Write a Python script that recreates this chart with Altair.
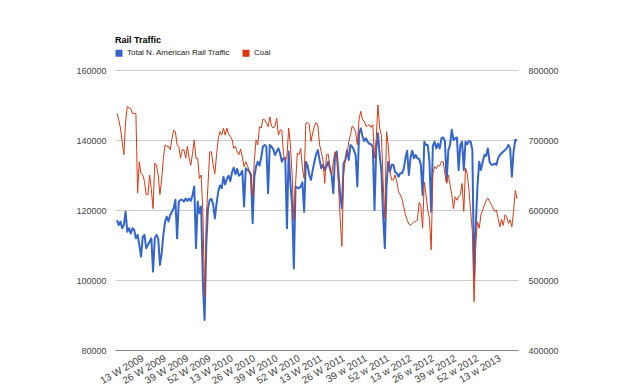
import json
import altair as alt
import pandas as pd

FONT = "Liberation Sans, Arial, sans-serif"

series_names = ["Total N. American Rail Traffic", "Coal"]
series_colors = ["#3366cc", "#dc3912"]

# weekly carloads, week 1 of 2009 onwards (left axis)
total_traffic = [
    117100, 115700, 116700, 114800, 115700, 119500, 113800, 114800, 113300, 114800,
    114300, 111900, 112900, 110000, 106700, 112400, 112900, 109100, 110000, 111000,
    111900, 102400, 111900, 112900, 111900, 104300, 107600, 112900, 116700, 118100,
    116700, 118600, 119500, 120500, 122900, 111900, 122400, 122900,
    122900, 122400, 123300, 122600, 123300, 122600, 124300, 126700, 109100, 122400,
    119100, 121000, 99500, 88600, 110000, 120500, 122900, 123200, 121600, 117600,
    121900, 125300, 127000, 126200, 129500, 127300, 128900, 129800, 128300, 130800,
    132100, 130200, 131700, 129800, 130200, 131200, 121000, 131900, 131500, 131000,
    130200, 116200, 129500, 132400, 133800, 132700, 135000, 138100, 138600, 138100,
    124800, 138600, 138100, 137400, 135700, 136700, 137600, 136200, 133800, 134800,
    134800, 114800, 136700, 127600, 121400, 103300, 126700, 126400, 126200, 126700,
    127900, 119500, 133800, 132700, 130000, 128600, 131400, 133800, 135900, 137100,
    134300, 131900, 132900, 131400, 132400, 133800, 131900, 130000, 124800, 135700,
    136700, 130500, 124300, 120500, 133300, 134300, 137100, 134300, 138600, 138100,
    137100, 135700, 126700, 141900, 143300, 141000, 139700, 140500, 139500, 138900,
    138800, 138100, 120000, 137600, 141900, 135700, 131000, 118600, 109100,
    127100, 133800, 131000, 132900, 132900, 130800, 130500, 129500, 130500, 130500,
    131700, 134800, 136900, 130000, 135000, 136900, 134800, 135700, 134800, 134600,
    132900, 124300, 139500, 138600, 138600, 133800, 119500, 138400, 139500, 137600,
    139000, 137600, 140500, 140700, 139700, 128100, 137100, 138600, 142900, 140000,
    140500, 140700, 131400, 138600, 139500, 131400, 139500, 138800, 139700, 139500,
    137100, 100500, 115700, 127100, 133800, 131400, 133800, 135700, 135500, 137600,
    133800, 133000, 132900, 133300, 132900, 134800, 135700, 136200, 136700, 137100,
    137600, 138600, 137600, 129500, 136700, 140000, 140000,
]

# weekly coal tons (right axis)
coal = [
    738000, 729000, 717000, 698000, 679000, 726000, 748000, 746000, 745000, 738000,
    738000, 738000, 624000, 669000, 652000, 650000, 641000, 622000, 622000, 650000,
    629000, 602000, 667000, 664000, 650000, 622000, 643000, 674000, 693000, 691000,
    691000, 686000, 702000, 714000, 712000, 693000, 691000, 674000,
    686000, 686000, 674000, 691000, 674000, 664000, 681000, 700000, 674000, 674000,
    645000, 650000, 598000, 476000, 588000, 636000, 683000, 683000, 664000, 652000,
    679000, 702000, 712000, 707000, 717000, 707000, 717000, 708000, 705000, 701000,
    688000, 691000, 683000, 679000, 687000, 676000, 662000, 669000, 663000, 657000,
    645000, 619000, 671000, 700000, 693000, 719000, 717000, 730000, 729000, 724000,
    719000, 733000, 720000, 717000, 720000, 731000, 707000, 714000, 714000, 679000,
    671000, 676000, 717000, 693000, 650000, 586000, 636000, 681000, 679000, 688000,
    660000, 645000, 724000, 725000, 722000, 698000, 710000, 720000, 725000, 721000,
    693000, 683000, 671000, 638000, 679000, 680000, 662000, 650000, 669000, 683000,
    676000, 636000, 588000, 548000, 652000, 671000, 679000, 698000, 707000, 720000,
    717000, 712000, 693000, 730000, 741000, 729000, 727000, 720000, 720000, 722000,
    718000, 722000, 674000, 702000, 750000, 717000, 707000, 641000, 588000,
    712000, 693000, 654000, 643000, 643000, 650000, 640000, 626000, 622000, 616000,
    605000, 593000, 586000, 580000, 578000, 581000, 583000, 584000, 586000, 611000,
    605000, 574000, 640000, 622000, 600000, 588000, 543000, 652000, 662000, 659000,
    664000, 663000, 669000, 669000, 652000, 638000, 650000, 636000, 622000, 602000,
    619000, 614000, 619000, 622000, 638000, 598000, 660000, 652000, 629000, 598000,
    569000, 469000, 555000, 583000, 574000, 593000, 600000, 607000, 613000, 617000,
    612000, 608000, 603000, 598000, 600000, 588000, 576000, 587000, 578000, 593000,
    590000, 581000, 586000, 576000, 598000, 628000, 616000,
]

tick_weeks = [12, 25, 38, 51, 64, 77, 90, 103, 116, 129, 142, 155, 168, 181, 194, 207, 220]
tick_labels = [
    "13 W 2009", "26 W 2009", "39 W 2009", "52 W 2009",
    "13 W 2010", "26 W 2010", "39 W 2010", "52 W 2010",
    "13 W 2011", "26 W 2011", "39 w 2011", "52 w 2011",
    "13 w 2012", "26 w 2012", "39 w 2012", "52 w 2012",
    "13 w 2013",
]
left_ticks = [80000, 100000, 120000, 140000, 160000]
right_ticks = [400000, 500000, 600000, 700000, 800000]

df_total = pd.DataFrame({"week": list(range(len(total_traffic))),
                         "value": total_traffic, "series": series_names[0]})
df_coal = pd.DataFrame({"week": list(range(len(coal))),
                        "value": coal, "series": series_names[1]})

label_expr = f"{json.dumps(tick_labels)}[indexof({json.dumps(tick_weeks)}, datum.value)]"

x_enc = alt.X(
    "week:Q",
    title=None,
    scale=alt.Scale(domain=[-1.17, 233.58], nice=False, zero=False),
    axis=alt.Axis(
        values=tick_weeks, labelExpr=label_expr, labelAngle=330,
        labelAlign="right", labelBaseline="middle", labelPadding=7, labelOffset=5,
        labelFontSize=10, labelFont=FONT, labelColor="#444",
        labelFlush=False, labelOverlap=False,
        ticks=False, tickSize=0, grid=False,
        domain=True, domainColor="#888", domainWidth=1,
    ),
)

color_enc = alt.Color(
    "series:N",
    scale=alt.Scale(domain=series_names, range=series_colors),
    legend=alt.Legend(
        title=None, orient="none", legendX=0, legendY=-21, direction="horizontal",
        symbolType="square", symbolSize=1, symbolStrokeWidth=6,
        labelFontSize=8, labelFont=FONT, labelColor="#222",
        columnPadding=2, labelOffset=4, padding=0,
    ),
)

blue = alt.Chart(df_total).mark_line(strokeWidth=2, strokeJoin="round").encode(
    x=x_enc,
    y=alt.Y(
        "value:Q", title=None,
        scale=alt.Scale(domain=[80000, 160000], nice=False, zero=False),
        axis=alt.Axis(orient="left", values=left_ticks, format="d", grid=True,
                      gridColor="#cccccc", ticks=False, tickSize=0, domain=False,
                      labelPadding=9, labelFontSize=9, labelFont=FONT, labelColor="#444"),
    ),
    color=color_enc,
)

red = alt.Chart(df_coal).mark_line(strokeWidth=1, strokeJoin="round").encode(
    x=x_enc,
    y=alt.Y(
        "value:Q", title=None,
        scale=alt.Scale(domain=[400000, 800000], nice=False, zero=False),
        axis=alt.Axis(orient="right", values=right_ticks, format="d", grid=False,
                      ticks=False, tickSize=0, domain=False,
                      labelPadding=10, labelFontSize=9, labelFont=FONT, labelColor="#444"),
    ),
    color=color_enc,
)

chart = (
    alt.layer(blue, red)
    .resolve_scale(y="independent")
    .properties(
        width=403, height=280,
        autosize=alt.AutoSizeParams(type="none"),
        padding={"left": 107, "top": 62, "right": 98, "bottom": 40},
        background="white",
        title=alt.TitleParams("Rail Traffic", anchor="start", frame="group",
                              fontSize=9, fontWeight="bold", font=FONT, color="#000",
                              offset=-3, baseline="alphabetic"),
    )
    .configure_view(stroke=None)
)

chart.save("out.html", embed_options={"renderer": "svg", "actions": False})
